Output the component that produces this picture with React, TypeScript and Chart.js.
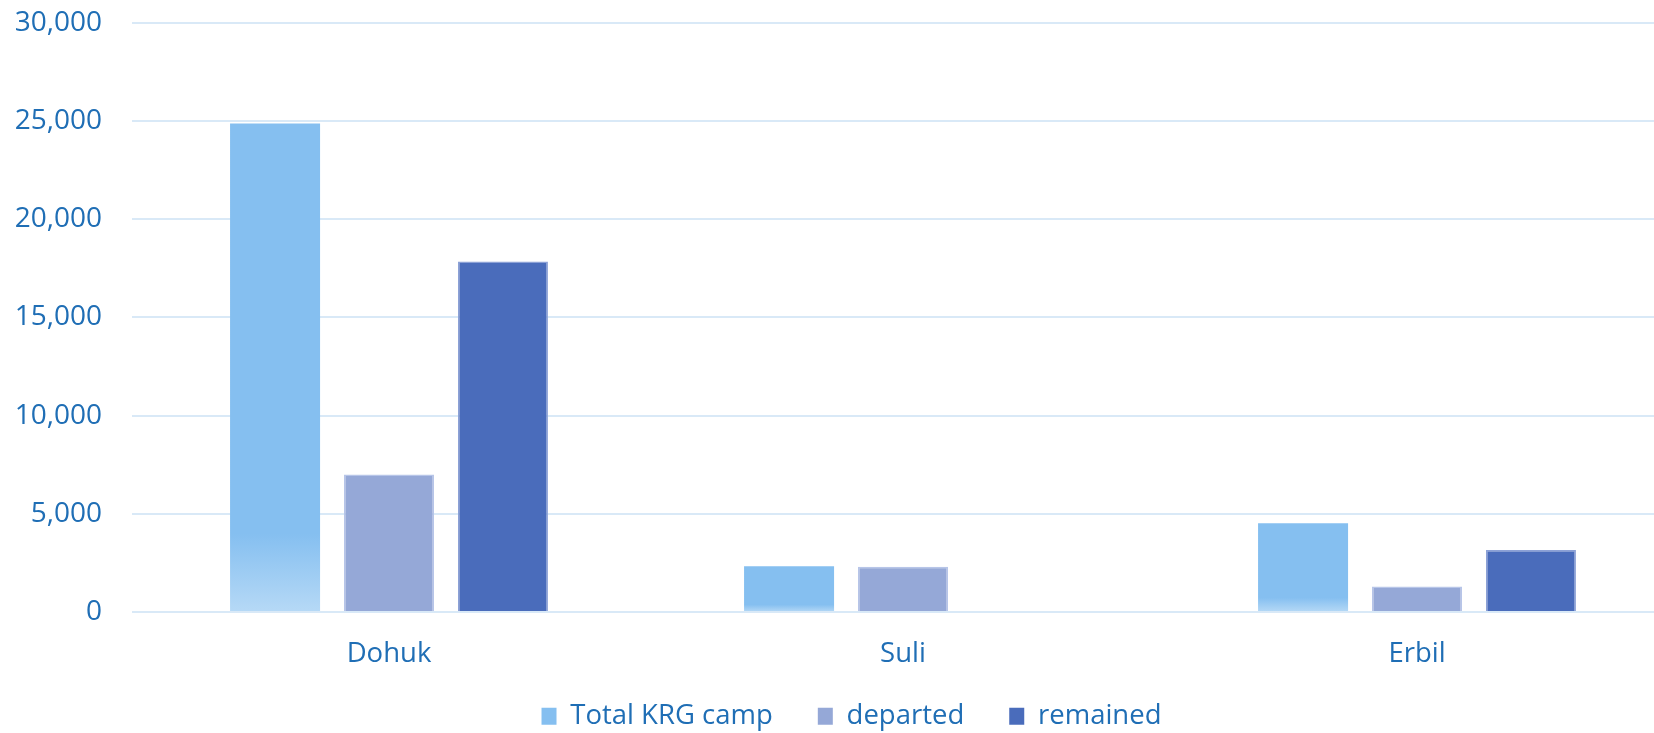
import React, { useEffect, useRef } from 'react';
import { Chart, registerables } from 'chart.js';

Chart.register(...registerables);

const categories = ['Dohuk', 'Suli', 'Erbil'];
const totalKRG = [24870, 2330, 4520];
const departed = [7000, 2310, 1300];
const remained = [17840, 0, 3160];
const seriesNames = ['Total KRG camp', 'departed', 'remained'];
const yMin = 0;
const yMax = 30000;
const yStep = 5000;

const TEXT = '#1F6EB5';
const GRID = '#D9E9F7';
const TOTAL_TOP = '#85BFF0';
const TOTAL_BOTTOM = '#B6D9F6';
const DEPARTED = '#95A8D7';
const REMAINED = '#4A6CBB';
const FONT = "'Open Sans', sans-serif";

export default function App() {
  const ref = useRef<HTMLCanvasElement | null>(null);

  useEffect(() => {
    if (!ref.current) return;
    const chart = new Chart(ref.current, {
      type: 'bar',
      data: {
        labels: categories,
        datasets: [
          {
            label: seriesNames[0],
            data: totalKRG,
            backgroundColor: (ctx: any) => {
              const c = ctx.chart;
              if (!c.chartArea || ctx.type !== 'data') return TOTAL_TOP;
              const y = c.scales.y;
              const top = y.getPixelForValue(ctx.raw as number);
              const bottom = y.getPixelForValue(0);
              if (!isFinite(top) || !isFinite(bottom) || bottom - top < 1) return TOTAL_TOP;
              const g = c.ctx.createLinearGradient(0, top, 0, bottom);
              g.addColorStop(0, TOTAL_TOP);
              g.addColorStop(0.84, TOTAL_TOP);
              g.addColorStop(1, TOTAL_BOTTOM);
              return g;
            },
            borderWidth: 0,
          },
          {
            label: seriesNames[1],
            data: departed,
            backgroundColor: DEPARTED,
            borderColor: '#B7C5E8',
            borderWidth: 1.5,
          },
          {
            label: seriesNames[2],
            data: remained,
            backgroundColor: REMAINED,
            borderColor: '#8CA1D6',
            borderWidth: 1.5,
          },
        ],
      },
      options: {
        animation: false,
        responsive: true,
        maintainAspectRatio: false,
        categoryPercentage: 0.665,
        barPercentage: 0.79,
        layout: { padding: 0 },
        plugins: {
          tooltip: { enabled: false },
          legend: {
            position: 'bottom',
            labels: {
              boxWidth: 15,
              boxHeight: 17,
              padding: 45,
              color: TEXT,
              font: { family: FONT, size: 27.5 },
              generateLabels: (c: any) => {
                const items = Chart.defaults.plugins.legend.labels.generateLabels(c);
                const fills = [TOTAL_TOP, DEPARTED, REMAINED];
                return items.map((it: any, i: number) => ({
                  ...it,
                  fillStyle: fills[i],
                  strokeStyle: fills[i],
                  lineWidth: 0,
                }));
              },
            },
          },
        },
        scales: {
          x: {
            grid: { display: false, drawTicks: false },
            border: { display: false },
            ticks: {
              color: TEXT,
              padding: 25.5,
              font: { family: FONT, size: 27.5 },
            },
            afterFit: (s: any) => {
              s.height = 45.5;
              s._computeLabelArea = () => undefined;
            },
          },
          y: {
            min: yMin,
            max: yMax,
            grid: { color: GRID, lineWidth: 2, drawTicks: false },
            border: { display: false },
            ticks: {
              stepSize: yStep,
              color: TEXT,
              padding: 30,
              font: { family: FONT, size: 28 },
              callback: (v: any) => Number(v).toLocaleString('en-US'),
            },
            afterFit: (s: any) => {
              s.width = 132;
            },
          },
          y2: {
            position: 'right',
            display: true,
            grid: { display: false, drawTicks: false },
            border: { display: false },
            ticks: { display: false },
            afterFit: (s: any) => {
              s.width = 29;
            },
          },
        },
      },
    } as any);
    return () => chart.destroy();
  }, []);

  return (
    <div
      style={{
        position: 'fixed',
        left: 0,
        top: 0,
        width: 1654,
        height: 733,
        overflow: 'hidden',
        background: '#ffffff',
      }}
    >
      <div style={{ position: 'absolute', left: 0, top: -24, width: 1703, height: 764 }}>
        <canvas ref={ref} />
      </div>
    </div>
  );
}
